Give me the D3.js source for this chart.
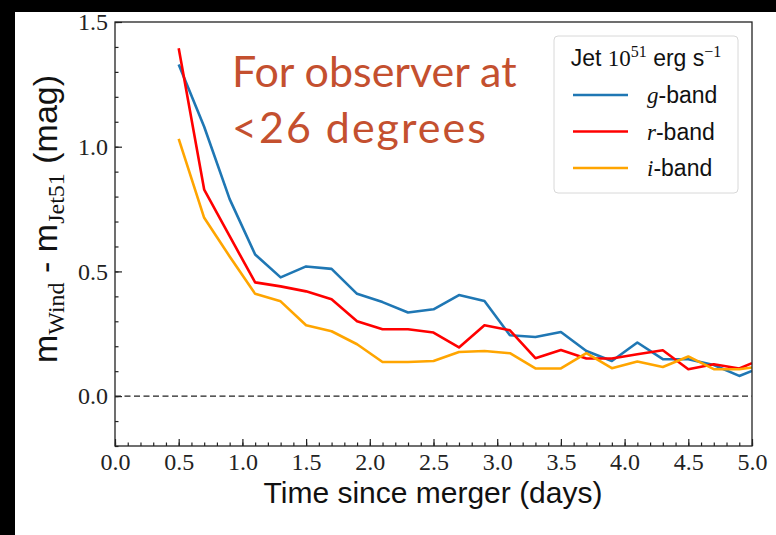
<!DOCTYPE html>
<html>
<head>
<meta charset="utf-8">
<script src="https://cdn.jsdelivr.net/npm/d3@7"></script>
<style>
  html, body { margin: 0; padding: 0; background: #fff; }
  svg { display: block; }
</style>
</head>
<body>
<svg id="chart" width="776" height="535"></svg>
<script>
// Magnitude difference (wind model minus 10^51 erg/s jet model) per band
const times = [0.5, 0.7, 0.9, 1.1, 1.3, 1.5, 1.7, 1.9, 2.1, 2.3, 2.5, 2.7,
               2.9, 3.1, 3.3, 3.5, 3.7, 3.9, 4.1, 4.3, 4.5, 4.7, 4.9, 5.0];
const gBand = [1.33, 1.08, 0.79, 0.568, 0.476, 0.52, 0.51, 0.41, 0.377, 0.335, 0.348, 0.405,
               0.381, 0.244, 0.237, 0.257, 0.181, 0.141, 0.215, 0.148, 0.148, 0.125, 0.081, 0.101];
const rBand = [1.395, 0.828, 0.641, 0.456, 0.44, 0.42, 0.388, 0.30, 0.268, 0.268, 0.255, 0.195,
               0.284, 0.264, 0.152, 0.185, 0.151, 0.151, 0.168, 0.184, 0.108, 0.128, 0.111, 0.132];
const iBand = [1.031, 0.715, 0.56, 0.41, 0.38, 0.284, 0.26, 0.208, 0.137, 0.137, 0.141, 0.177,
               0.181, 0.172, 0.111, 0.111, 0.172, 0.112, 0.139, 0.117, 0.159, 0.108, 0.108, 0.115];

const bandNames = ["g", "r", "i"];
const bandColors = ["#1f77b4", "#ff0000", "#ffa500"];
const bandValues = [gBand, rBand, iBand];

const xMajorTicks = [0.0, 0.5, 1.0, 1.5, 2.0, 2.5, 3.0, 3.5, 4.0, 4.5, 5.0];
const xMinorTicks = d3.range(0, 51).map(d => d / 10);
const yMajorTicks = [0.0, 0.5, 1.0, 1.5];
const yMinorTicks = d3.range(-2, 16).map(d => d / 10);

const serif = "'Liberation Serif', 'DejaVu Serif', serif";
const sans = "'Liberation Sans', 'DejaVu Sans', sans-serif";

const svg = d3.select("#chart");

// slide background with the dark edge
svg.append("rect").attr("width", 776).attr("height", 535).attr("fill", "#000");
svg.append("rect").attr("x", 15).attr("y", 12).attr("width", 761).attr("height", 523).attr("fill", "#fff");

const plot = { left: 115, right: 752, top: 22, bottom: 446 };
const x = d3.scaleLinear().domain([0, 5]).range([plot.left, plot.right]);
const y = d3.scaleLinear().domain([-0.2, 1.5]).range([plot.bottom, plot.top]);

svg.append("clipPath").attr("id", "plot-clip")
  .append("rect")
  .attr("x", plot.left).attr("y", plot.top)
  .attr("width", plot.right - plot.left).attr("height", plot.bottom - plot.top);

// zero reference line
svg.append("line")
  .attr("x1", x(0)).attr("x2", x(5))
  .attr("y1", y(0)).attr("y2", y(0))
  .attr("stroke", "#222").attr("stroke-width", 1.3)
  .attr("stroke-dasharray", "6,3.5");

// band curves
const line = d3.line().x((d, i) => x(times[i])).y(d => y(d));
const curves = svg.append("g").attr("clip-path", "url(#plot-clip)");
bandValues.forEach((vals, k) => {
  curves.append("path")
    .datum(vals)
    .attr("d", line)
    .attr("fill", "none")
    .attr("stroke", bandColors[k])
    .attr("stroke-width", 2.6)
    .attr("stroke-linejoin", "round");
});

// axes with inward ticks
function styleAxis(g) {
  g.select(".domain").remove();
  g.selectAll(".tick line").attr("stroke", "#222").attr("stroke-width", 1.2);
  g.selectAll(".tick text").attr("fill", "#222").style("font-family", serif).style("font-size", "24px");
}

svg.append("g")
  .attr("transform", `translate(0,${plot.bottom})`)
  .call(d3.axisBottom(x).tickValues(xMinorTicks).tickSize(-3.5).tickFormat(""))
  .call(styleAxis);
svg.append("g")
  .attr("transform", `translate(0,${plot.bottom})`)
  .call(d3.axisBottom(x).tickValues(xMajorTicks).tickSize(-7).tickPadding(7).tickFormat(d3.format(".1f")))
  .call(styleAxis);

svg.append("g")
  .attr("transform", `translate(${plot.left},0)`)
  .call(d3.axisLeft(y).tickValues(yMinorTicks).tickSize(-3.5).tickFormat(""))
  .call(styleAxis);
svg.append("g")
  .attr("transform", `translate(${plot.left},0)`)
  .call(d3.axisLeft(y).tickValues(yMajorTicks).tickSize(-7).tickPadding(7).tickFormat(d3.format(".1f")))
  .call(styleAxis);

// frame
svg.append("rect")
  .attr("x", plot.left).attr("y", plot.top)
  .attr("width", plot.right - plot.left).attr("height", plot.bottom - plot.top)
  .attr("fill", "none").attr("stroke", "#222").attr("stroke-width", 1.3);

// axis titles
svg.append("text")
  .attr("x", 433).attr("y", 503)
  .attr("text-anchor", "middle")
  .style("font-family", sans).style("font-size", "30px").attr("fill", "#111")
  .text("Time since merger (days)");

const yTitle = svg.append("text")
  .attr("transform", "translate(57,219) rotate(-90)")
  .attr("text-anchor", "middle")
  .style("font-family", sans).style("font-size", "34px").attr("fill", "#111");
yTitle.append("tspan").text("m");
yTitle.append("tspan").attr("dy", 7).style("font-family", serif).style("font-size", "24px").text("Wind");
yTitle.append("tspan").attr("dy", -7).text(" - m");
yTitle.append("tspan").attr("dy", 7).style("font-family", serif).style("font-size", "24px").text("Jet51");
yTitle.append("tspan").attr("dy", -7).text(" (mag)");

// legend
const legend = svg.append("g");
legend.append("rect")
  .attr("x", 554).attr("y", 36).attr("width", 184).attr("height", 157)
  .attr("rx", 4).attr("fill", "#fff").attr("stroke", "#d8d8d8").attr("stroke-width", 1);

const legTitle = legend.append("text")
  .attr("x", 646).attr("y", 66).attr("text-anchor", "middle")
  .style("font-family", sans).style("font-size", "23px").attr("fill", "#111");
legTitle.append("tspan").text("Jet ");
legTitle.append("tspan").style("font-family", serif).text("10");
legTitle.append("tspan").attr("dy", -9).style("font-family", serif).style("font-size", "16px").text("51");
legTitle.append("tspan").attr("dy", 9).text(" erg s");
legTitle.append("tspan").attr("dy", -9).style("font-family", serif).style("font-size", "16px").text("\u22121");

bandNames.forEach((name, k) => {
  const ly = 95 + k * 36.5;
  legend.append("line")
    .attr("x1", 573).attr("x2", 628).attr("y1", ly).attr("y2", ly)
    .attr("stroke", bandColors[k]).attr("stroke-width", 2.6);
  const t = legend.append("text")
    .attr("x", 647).attr("y", ly + 8)
    .style("font-family", sans).style("font-size", "23px").attr("fill", "#111");
  t.append("tspan").style("font-family", serif).style("font-style", "italic").text(name);
  t.append("tspan").text("-band");
});

// annotation
const note = svg.append("text")
  .style("font-family", "Lato, 'Open Sans', sans-serif").style("font-size", "43px")
  .attr("fill", "#c4502f");
note.append("tspan").attr("x", 232).attr("y", 87).text("For observer at");
note.append("tspan").attr("x", 232).attr("y", 143).style("letter-spacing", "2px").text("<26 degrees");
</script>
</body>
</html>
